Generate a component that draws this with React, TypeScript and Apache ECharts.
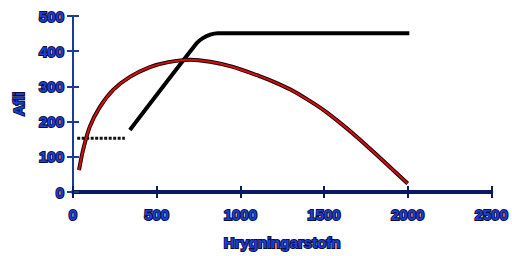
import React, { useEffect, useRef } from "react";
import * as echarts from "echarts";

const xTicks = [0, 500, 1000, 1500, 2000, 2500];
const yTicks = [0, 100, 200, 300, 400, 500];
const dashedLine: [number, number][] = [[25, 153], [310, 153]];
const blackLine: [number, number][] = [[340, 176], [740, 423], [776, 437], [820, 447], [865, 451], [2010, 451]];
const redCurve: [number, number][] = [
  [36, 62], [60, 119], [100, 185], [160, 241], [240, 290], [340, 327], [460, 355], [570, 369],
  [700, 376], [820, 370], [950, 356], [1110, 330], [1200, 313], [1300, 291], [1400, 263],
  [1500, 232], [1600, 195], [1700, 155], [1800, 112], [1900, 68], [2000, 24],
];

const labelStyle = {
  color: "#1d3ed6",
  fontFamily: "Liberation Sans",
  fontWeight: "bold" as const,
  fontSize: 15,
  textBorderColor: "#0a0f3a",
  textBorderWidth: 2,
};

export default function App() {
  const ref = useRef<HTMLDivElement>(null);
  useEffect(() => {
    document.body.style.margin = "0";
    const chart = echarts.init(ref.current!, undefined, { renderer: "svg" });
    const xBase = { type: "value", min: xTicks[0], max: xTicks[xTicks.length - 1], interval: 500, splitLine: { show: false } };
    const yBase = { type: "value", min: yTicks[0], max: yTicks[yTicks.length - 1], interval: 100, splitLine: { show: false } };
    chart.setOption({
      animation: false,
      grid: { left: 73, right: 20, top: 16, bottom: 64 },
      xAxis: [
        {
          ...xBase,
          name: "Hrygningarstofn",
          nameLocation: "middle",
          nameGap: 43,
          nameTextStyle: labelStyle,
          axisLine: { show: true, lineStyle: { color: "#0b1a5e", width: 4 } },
          axisTick: { show: true, length: 6, lineStyle: { color: "#0b1a5e", width: 2 } },
          axisLabel: { ...labelStyle, margin: 15, formatter: (v: number) => String(v) },
        },
        {
          ...xBase,
          position: "bottom",
          axisLine: { show: false },
          axisTick: { show: true, inside: true, length: 6, lineStyle: { color: "#0b1a5e", width: 2 } },
          axisLabel: { show: false },
        },
      ],
      yAxis: [
        {
          ...yBase,
          name: "Afli",
          nameLocation: "middle",
          nameGap: 47,
          nameRotate: 90,
          nameTextStyle: labelStyle,
          axisLine: { show: true, lineStyle: { color: "#1a3a9e", width: 2 } },
          axisTick: { show: true, length: 6, lineStyle: { color: "#1a3a9e", width: 2 } },
          axisLabel: { ...labelStyle, margin: 9, formatter: (v: number) => String(v) },
        },
        {
          ...yBase,
          position: "left",
          axisLine: { show: false },
          axisTick: { show: true, inside: true, length: 6, lineStyle: { color: "#1a3a9e", width: 2 } },
          axisLabel: { show: false },
        },
      ],
      series: [
        {
          type: "line",
          data: dashedLine,
          showSymbol: false,
          lineStyle: { color: "#111", width: 3, type: [3, 1.5] },
        },
        {
          type: "line",
          data: blackLine,
          showSymbol: false,
          smooth: 0.2,
          lineStyle: { color: "#000", width: 4 },
        },
        {
          type: "line",
          data: redCurve,
          showSymbol: false,
          smooth: 0.3,
          lineStyle: { color: "#1a0000", width: 4 },
        },
        {
          type: "line",
          data: redCurve,
          showSymbol: false,
          smooth: 0.3,
          lineStyle: { color: "#d01010", width: 2 },
        },
      ],
    });
    return () => chart.dispose();
  }, []);
  return <div ref={ref} style={{ width: 512, height: 256 }} />;
}
